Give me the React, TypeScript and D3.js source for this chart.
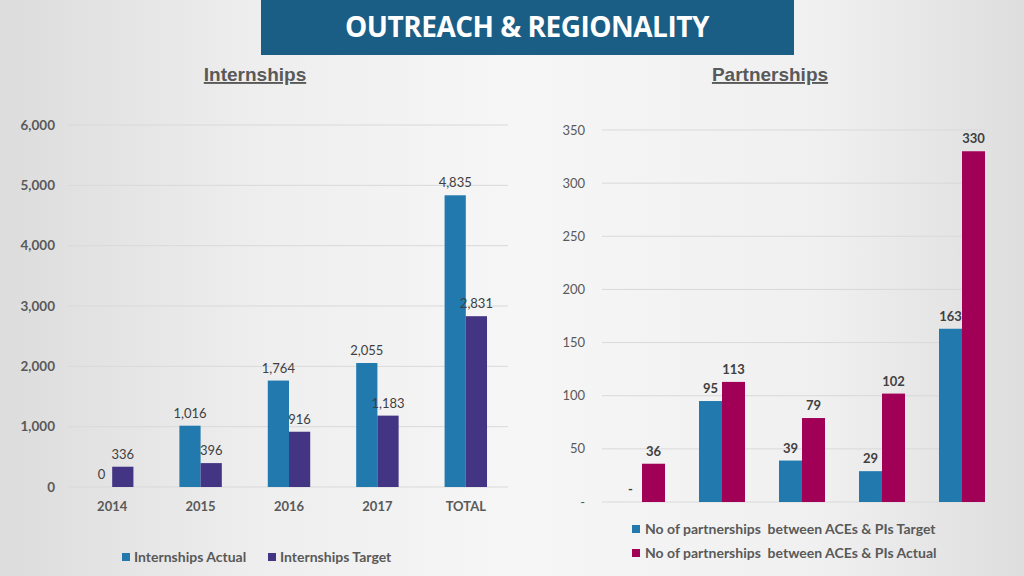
import React from "react";
import * as d3 from "d3";

const intCategories = ["2014", "2015", "2016", "2017", "TOTAL"];
const intActual = [0, 1016, 1764, 2055, 4835];
const intTarget = [336, 396, 916, 1183, 2831];
const intTicks = [0, 1000, 2000, 3000, 4000, 5000, 6000];

const partCategories = ["A", "B", "C", "D", "E"];
const partTarget = [0, 95, 39, 29, 163];
const partActual = [36, 113, 79, 102, 330];
const partTicks = [0, 50, 100, 150, 200, 250, 300, 350];

const W = 1024;
const H = 576;
const FONT = "Lato, 'Open Sans', sans-serif";
const C_ACT = "#2279ae";
const C_TGT = "#433484";
const C_MAG = "#a10057";
const GRID = "#d9d9d9";
const TXT = "#595959";
const LBL = "#404040";

const fmt = d3.format(",");

export default function App() {
  // Left chart
  const lx = d3.scaleBand<string>().domain(intCategories).range([68, 510]).paddingInner(0.52).paddingOuter(0.26);
  const ly = d3.scaleLinear().domain([0, 6000]).range([487, 125]);
  const lbw = lx.bandwidth() / 2;

  // Right chart
  const rx = d3.scaleBand<string>().domain(partCategories).range([602, 1002]).paddingInner(0.425).paddingOuter(0.2125);
  const ry = d3.scaleLinear().domain([0, 350]).range([502, 130]);
  const rbw = rx.bandwidth() / 2;

  return (
    <svg width={W} height={H} style={{ position: "absolute", left: 0, top: 0 }} fontFamily={FONT}>
      <defs>
        <linearGradient id="bg" x1="0" x2="1" y1="0" y2="0">
          <stop offset="0" stopColor="#dcdcdc" />
          <stop offset="0.25" stopColor="#eeeeee" />
          <stop offset="0.5" stopColor="#f6f6f6" />
          <stop offset="0.8" stopColor="#f0f0f0" />
          <stop offset="1" stopColor="#dedede" />
        </linearGradient>
      </defs>
      <rect x={0} y={0} width={W} height={H} fill="url(#bg)" />

      {/* Title */}
      <rect x={261} y={0} width={533} height={55} fill="#1b5e85" />
      <text x={527} y={37} textAnchor="middle" fill="#ffffff" fontSize={28} fontWeight="bold" fontFamily="'Open Sans', Lato, sans-serif" letterSpacing={-0.5}>
        OUTREACH &amp; REGIONALITY
      </text>

      {/* Subtitles */}
      <text x={255} y={81} textAnchor="middle" fill="#595959" fontSize={19} fontWeight="bold" fontFamily="'Liberation Sans', Arial, sans-serif" textDecoration="underline">
        Internships
      </text>
      <text x={770} y={81} textAnchor="middle" fill="#595959" fontSize={19} fontWeight="bold" fontFamily="'Liberation Sans', Arial, sans-serif" textDecoration="underline">
        Partnerships
      </text>

      {/* Left chart grid & y axis */}
      {intTicks.map((t) => (
        <g key={"lt" + t}>
          <line x1={68} x2={508} y1={ly(t)} y2={ly(t)} stroke={GRID} strokeWidth={1} />
          <text x={55} y={ly(t) + 4.5} textAnchor="end" fontSize={13.5} fontWeight="bold" fill={TXT}>
            {fmt(t)}
          </text>
        </g>
      ))}
      {intCategories.map((c, i) => {
        const x0 = lx(c)!;
        return (
          <g key={"lc" + c}>
            <rect x={x0} y={ly(intActual[i])} width={lbw} height={ly(0) - ly(intActual[i])} fill={C_ACT} />
            <rect x={x0 + lbw} y={ly(intTarget[i])} width={lbw} height={ly(0) - ly(intTarget[i])} fill={C_TGT} />
            <text x={x0 + lbw / 2} y={ly(intActual[i]) - 8} textAnchor="middle" fontSize={13} fill={LBL}>
              {fmt(intActual[i])}
            </text>
            <text x={x0 + lbw * 1.5} y={ly(intTarget[i]) - 8} textAnchor="middle" fontSize={13} fill={LBL}>
              {fmt(intTarget[i])}
            </text>
            <text x={x0 + lbw} y={511} textAnchor="middle" fontSize={13} fontWeight="bold" fill={TXT}>
              {c}
            </text>
          </g>
        );
      })}

      {/* Left legend */}
      <rect x={122} y={553} width={8} height={8} fill={C_ACT} />
      <text x={134} y={562} fontSize={14} fontWeight="bold" fill={TXT}>Internships Actual</text>
      <rect x={268} y={553} width={8} height={8} fill={C_TGT} />
      <text x={280} y={562} fontSize={14} fontWeight="bold" fill={TXT}>Internships Target</text>

      {/* Right chart grid & y axis */}
      {partTicks.map((t) => (
        <g key={"rt" + t}>
          <line x1={602} x2={985} y1={ry(t)} y2={ry(t)} stroke={GRID} strokeWidth={1} />
          <text x={585} y={ry(t) + 4.5} textAnchor="end" fontSize={13} fill={TXT}>
            {t === 0 ? "-" : t}
          </text>
        </g>
      ))}
      {partCategories.map((c, i) => {
        const x0 = rx(c)!;
        return (
          <g key={"rc" + c}>
            <rect x={x0} y={ry(partTarget[i])} width={rbw} height={ry(0) - ry(partTarget[i])} fill={C_ACT} />
            <rect x={x0 + rbw} y={ry(partActual[i])} width={rbw} height={ry(0) - ry(partActual[i])} fill={C_MAG} />
            <text x={x0 + rbw / 2} y={ry(partTarget[i]) - 8} textAnchor="middle" fontSize={13} fontWeight="bold" fill={LBL}>
              {partTarget[i] === 0 ? "-" : partTarget[i]}
            </text>
            <text x={x0 + rbw * 1.5} y={ry(partActual[i]) - 8} textAnchor="middle" fontSize={13} fontWeight="bold" fill={LBL}>
              {partActual[i]}
            </text>
          </g>
        );
      })}

      {/* Right legend */}
      <rect x={632} y={525} width={8} height={8} fill={C_ACT} />
      <text x={645} y={534} fontSize={14} fontWeight="bold" fill={TXT} style={{ whiteSpace: "pre" }}>
        {"No of partnerships  between ACEs & PIs Target"}
      </text>
      <rect x={632} y={549} width={8} height={8} fill={C_MAG} />
      <text x={645} y={558} fontSize={14} fontWeight="bold" fill={TXT} style={{ whiteSpace: "pre" }}>
        {"No of partnerships  between ACEs & PIs Actual"}
      </text>
    </svg>
  );
}
